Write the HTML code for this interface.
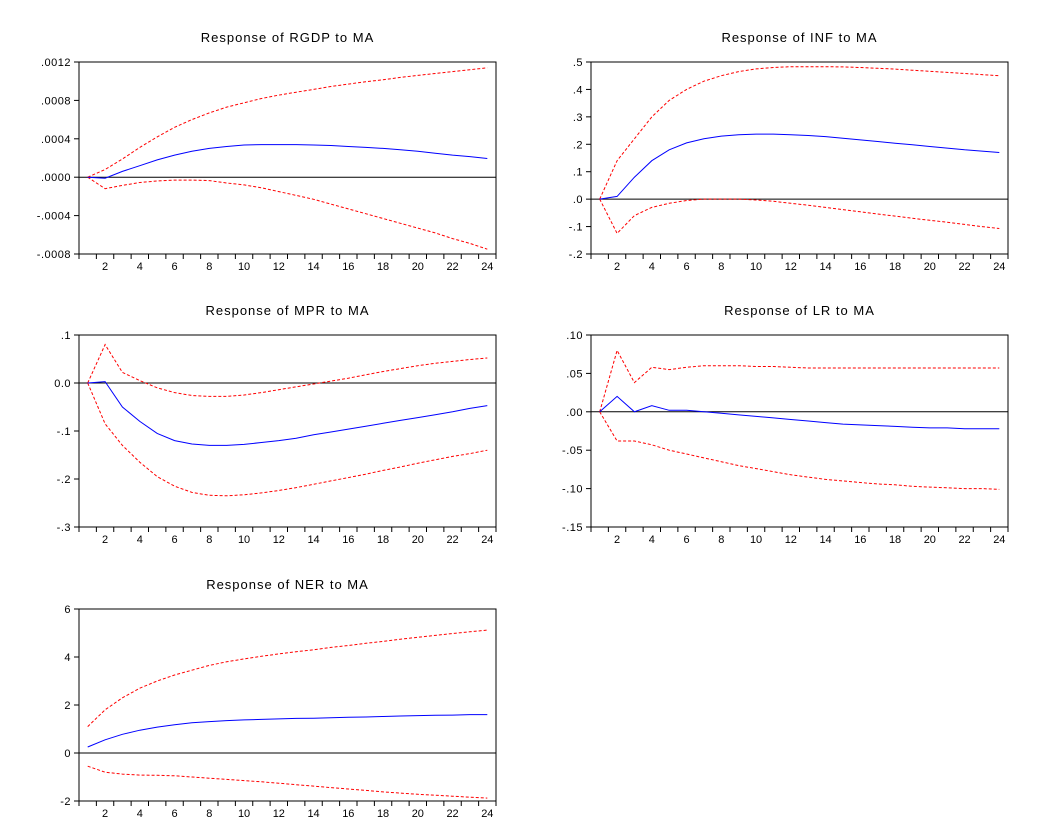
<!DOCTYPE html>
<html><head><meta charset="utf-8"><style>
body{margin:0;background:#fff;width:1052px;height:834px;overflow:hidden}
svg text{font-family:"Liberation Sans",sans-serif}
</style></head><body>
<svg id="c" width="1052" height="834" viewBox="0 0 1052 834"></svg>
<script>
const periods = Array.from({length:24},(_,i)=>i+1);
const xTickLabels = [2,4,6,8,10,12,14,16,18,20,22,24];
const rgdpResp = [0,-0.1,0.6,1.2,1.8,2.3,2.7,3.0,3.2,3.35,3.4,3.4,3.4,3.35,3.3,3.2,3.1,3.0,2.85,2.7,2.5,2.3,2.15,1.95].map(v=>v*1e-4);
const rgdpUp = [0,0.8,1.9,3.1,4.2,5.2,6.0,6.7,7.3,7.75,8.2,8.55,8.85,9.15,9.45,9.7,9.95,10.15,10.4,10.6,10.8,11.0,11.2,11.4].map(v=>v*1e-4);
const rgdpLo = [0,-1.2,-0.85,-0.55,-0.4,-0.3,-0.3,-0.35,-0.6,-0.8,-1.1,-1.5,-1.9,-2.3,-2.8,-3.3,-3.8,-4.3,-4.8,-5.3,-5.8,-6.4,-6.9,-7.5].map(v=>v*1e-4);
const rgdpTicks = [0.0012,0.0008,0.0004,0,-0.0004,-0.0008];
const rgdpTickLabels = [".0012",".0008",".0004",".0000","-.0004","-.0008"];
const infResp = [0,0.01,0.08,0.14,0.18,0.205,0.22,0.23,0.235,0.237,0.237,0.235,0.232,0.228,0.222,0.216,0.21,0.204,0.198,0.192,0.186,0.18,0.175,0.17];
const infUp = [0,0.14,0.22,0.3,0.36,0.4,0.43,0.45,0.465,0.475,0.48,0.483,0.483,0.483,0.482,0.48,0.477,0.474,0.47,0.466,0.462,0.458,0.454,0.45];
const infLo = [0,-0.125,-0.06,-0.03,-0.015,-0.005,0,0,0,-0.003,-0.008,-0.015,-0.022,-0.03,-0.038,-0.046,-0.054,-0.062,-0.07,-0.077,-0.084,-0.092,-0.1,-0.107];
const infTicks = [0.5,0.4,0.3,0.2,0.1,0,-0.1,-0.2];
const infTickLabels = [".5",".4",".3",".2",".1",".0","-.1","-.2"];
const mprResp = [0,0.003,-0.05,-0.08,-0.105,-0.12,-0.127,-0.13,-0.13,-0.128,-0.124,-0.12,-0.115,-0.108,-0.102,-0.096,-0.09,-0.084,-0.078,-0.072,-0.066,-0.06,-0.053,-0.047];
const mprUp = [0,0.08,0.022,0.005,-0.01,-0.02,-0.026,-0.028,-0.028,-0.025,-0.02,-0.014,-0.008,-0.002,0.004,0.01,0.017,0.024,0.03,0.036,0.041,0.045,0.049,0.052];
const mprLo = [0,-0.085,-0.13,-0.165,-0.195,-0.215,-0.228,-0.234,-0.235,-0.233,-0.229,-0.224,-0.218,-0.211,-0.204,-0.197,-0.19,-0.182,-0.175,-0.167,-0.16,-0.153,-0.147,-0.14];
const mprTicks = [0.1,0,-0.1,-0.2,-0.3];
const mprTickLabels = [".1","0.0","-.1","-.2","-.3"];
const lrResp = [0,0.02,0,0.008,0.002,0.002,0,-0.002,-0.004,-0.006,-0.008,-0.01,-0.012,-0.014,-0.016,-0.017,-0.018,-0.019,-0.02,-0.021,-0.021,-0.022,-0.022,-0.022];
const lrUp = [0,0.08,0.038,0.058,0.055,0.058,0.06,0.06,0.06,0.059,0.059,0.058,0.057,0.057,0.057,0.057,0.057,0.057,0.057,0.057,0.057,0.057,0.057,0.057];
const lrLo = [0,-0.038,-0.038,-0.043,-0.05,-0.055,-0.06,-0.065,-0.07,-0.074,-0.078,-0.082,-0.085,-0.088,-0.09,-0.092,-0.094,-0.095,-0.097,-0.098,-0.099,-0.1,-0.1,-0.101];
const lrTicks = [0.1,0.05,0,-0.05,-0.1,-0.15];
const lrTickLabels = [".10",".05",".00","-.05","-.10","-.15"];
const nerResp = [0.25,0.55,0.78,0.95,1.08,1.18,1.26,1.31,1.35,1.38,1.4,1.42,1.44,1.45,1.47,1.49,1.5,1.52,1.54,1.56,1.57,1.58,1.6,1.6];
const nerUp = [1.1,1.8,2.3,2.7,3.0,3.25,3.45,3.65,3.8,3.92,4.03,4.13,4.22,4.3,4.4,4.48,4.57,4.65,4.74,4.82,4.9,4.98,5.05,5.12];
const nerLo = [-0.55,-0.8,-0.88,-0.92,-0.93,-0.95,-1.0,-1.05,-1.1,-1.15,-1.2,-1.26,-1.32,-1.38,-1.44,-1.5,-1.56,-1.62,-1.67,-1.72,-1.76,-1.8,-1.84,-1.88];
const nerTicks = [6,4,2,0,-2];
const nerTickLabels = ["6","4","2","0","-2"];

const NS="http://www.w3.org/2000/svg";
const svg=document.getElementById('c');
function mk(tag,attrs,parent){const e=document.createElementNS(NS,tag);for(const k in attrs)e.setAttribute(k,attrs[k]);(parent||svg).appendChild(e);return e;}
function panel(key,title,L,T,resp,up,lo,ticks,tickLabels){
  const R=L+417,B=T+192;
  const g=mk('g',{});
  
  
  const yMax=ticks[0],yMin=ticks[ticks.length-1];
  const yS=v=>T+(yMax-v)/(yMax-yMin)*(B-T);
  const xS=p=>L+(p-0.5)*(R-L)/24;
  const t=mk('text',{x:(L+R)/2,y:T-20,'text-anchor':'middle','font-size':13,'letter-spacing':'1',fill:'#000'},g);
  t.textContent=title;
  
  
  const box=mk('rect',{x:L,y:T,width:R-L,height:B-T,fill:'none',stroke:'#000','stroke-width':1},g);
  
  
  ticks.forEach((v,i)=>{
    const y=yS(v);
    mk('line',{x1:L-5,x2:L,y1:y,y2:y,stroke:'#000'},g);
    const tl=mk('text',{x:L-8,y:y+4,'text-anchor':'end','font-size':11,'letter-spacing':'0.5',fill:'#000'},g);
    tl.textContent=tickLabels[i];
    
    
  });
  for(let k=0;k<=24;k++){const x=L+k*(R-L)/24;mk('line',{x1:x,x2:x,y1:B,y2:B+5,stroke:'#000'},g);}
  xTickLabels.forEach(p=>{
    const xl=mk('text',{x:xS(p),y:B+16,'text-anchor':'middle','font-size':11,fill:'#000'},g);
    xl.textContent=p;
    
    
  });
  const z=mk('line',{x1:L,x2:R,y1:yS(0),y2:yS(0),stroke:'#000'},g);
  
  
  const pts=a=>a.map((v,i)=>xS(periods[i]).toFixed(1)+','+yS(v).toFixed(1)).join(' ');
  const u=mk('polyline',{points:pts(up),fill:'none',stroke:'#f00','stroke-dasharray':'3,2'},g);
  
  
  const l=mk('polyline',{points:pts(lo),fill:'none',stroke:'#f00','stroke-dasharray':'3,2'},g);
  
  
  const r=mk('polyline',{points:pts(resp),fill:'none',stroke:'#00f'},g);
  
  
}
panel('rgdp','Response of RGDP to MA',79,62,rgdpResp,rgdpUp,rgdpLo,rgdpTicks,rgdpTickLabels);
panel('inf','Response of INF to MA',591,62,infResp,infUp,infLo,infTicks,infTickLabels);
panel('mpr','Response of MPR to MA',79,335,mprResp,mprUp,mprLo,mprTicks,mprTickLabels);
panel('lr','Response of LR to MA',591,335,lrResp,lrUp,lrLo,lrTicks,lrTickLabels);
panel('ner','Response of NER to MA',79,609,nerResp,nerUp,nerLo,nerTicks,nerTickLabels);
</script>
</body></html>
